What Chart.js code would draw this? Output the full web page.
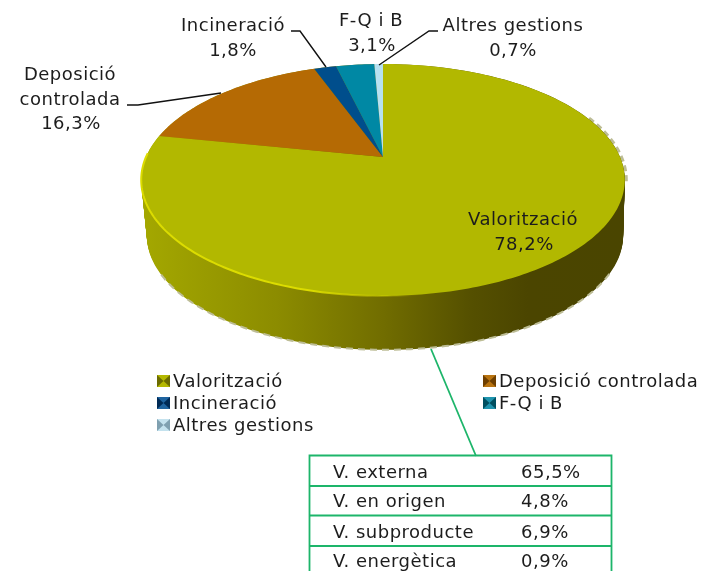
<!DOCTYPE html>
<html><head><meta charset="utf-8">
<style>html,body{margin:0;padding:0;background:#fff}canvas{display:block}</style>
<script src="https://cdn.jsdelivr.net/npm/chart.js@4"></script>
</head><body><canvas id="c" width="702" height="571"></canvas>
<script>
const categories=['Valorització','Deposició controlada','Incineració','F-Q i B','Altres gestions'];
const shares=[78.2,16.3,1.8,3.1,0.7];
const sliceColors=['#B2B800','#B56A04','#004E8C','#0088A4','#B7E1F1'];
const swatchDark=['#6b6b00','#6e3f00','#002a55','#004f60','#7fa0b0'];
const swatchLight=['#b4b800','#b97410','#1f64a0','#1f94ae','#c4e2ee'];
const shareLabels=['78,2%','16,3%','1,8%','3,1%','0,7%'];
const tableNames=['V. externa','V. en origen','V. subproducte','V. energètica'];
const tableValues=['65,5%','4,8%','6,9%','0,9%'];
const FONT='18px "DejaVu Sans"';
const TXT='#1c1c1c';
const GREEN='#1DB56A';

// perspective projection of the unit pie disc
const CX=383,APEX=157,A=237,B=111.4,K=0.198;
function faceAt(u,v){const d=1-K*v;return [CX+A*u/d,APEX+B*v/d];}
function lowAt(u,v,t){const d=1-K*v,s=1-0.015*t;return [CX+2*t+s*A*u/d,APEX+56*t+s*B*v/d];}

const pie3d={id:'pie3d',
 beforeDatasetsDraw(chart){
  const ctx=chart.ctx,arcs=chart.getDatasetMeta(0).data;
  // pale dashes around the right shoulder
  ctx.save();ctx.strokeStyle='#BDBD96';ctx.lineWidth=3;ctx.setLineDash([6,4]);ctx.beginPath();
  for(let i=-22;i<=12;i+=1){const a=i*Math.PI/180,p=faceAt(Math.cos(a),Math.sin(a));i>-22?ctx.lineTo(p[0]+1.5,p[1]):ctx.moveTo(p[0]+1.5,p[1]);}
  ctx.stroke();ctx.restore();
  // side wall
  const g=ctx.createLinearGradient(141,0,625,0);
  g.addColorStop(0,'#A4A800');g.addColorStop(.28,'#8C8C00');g.addColorStop(.5,'#716D00');
  g.addColorStop(.68,'#555000');g.addColorStop(.8,'#4B4500');g.addColorStop(1,'#4A4500');
  ctx.fillStyle=g;
  for(let s=0;s<=56;s++){
   ctx.beginPath();
   for(let i=0;i<=360;i+=2){const a=i*Math.PI/180,p=lowAt(Math.cos(a),Math.sin(a),s/56);i?ctx.lineTo(p[0],p[1]):ctx.moveTo(p[0],p[1]);}
   ctx.closePath();ctx.fill();
  }
  // pale dashed rim under the wall
  ctx.save();ctx.strokeStyle='#BDBD96';ctx.lineWidth=2;ctx.setLineDash([7,5]);ctx.beginPath();
  for(let i=30;i<=150;i+=1){const a=i*Math.PI/180,p=lowAt(Math.cos(a),Math.sin(a),1);i>30?ctx.lineTo(p[0],p[1]):ctx.moveTo(p[0],p[1]);}
  ctx.stroke();ctx.restore();
  // top face, one slice per library arc
  arcs.forEach((arc,k)=>{
   const st=arc.startAngle,en=arc.endAngle,n=Math.max(4,Math.ceil((en-st)*60));
   ctx.beginPath();let p=faceAt(0,0);ctx.moveTo(p[0],p[1]);
   for(let i=0;i<=n;i++){const a=st+(en-st)*i/n;p=faceAt(Math.cos(a),Math.sin(a));ctx.lineTo(p[0],p[1]);}
   ctx.closePath();ctx.fillStyle=sliceColors[k];ctx.fill();
  });
  // bright rim on the near-left edge
  const h=ctx.createLinearGradient(141,0,420,0);
  h.addColorStop(0,'#DCDC00');h.addColorStop(.6,'#DCDC00');h.addColorStop(1,'rgba(210,210,0,0)');
  ctx.strokeStyle=h;ctx.lineWidth=2;ctx.beginPath();
  for(let i=80;i<=182;i+=1){const a=i*Math.PI/180,q=faceAt(Math.cos(a),Math.sin(a));i>80?ctx.lineTo(q[0],q[1]):ctx.moveTo(q[0],q[1]);}
  ctx.stroke();
  return false;
 },
 afterDraw(chart){
  const c=chart.ctx;
  const line=(pts,col,w)=>{c.strokeStyle=col;c.lineWidth=w;c.beginPath();pts.forEach((p,i)=>i?c.lineTo(p[0],p[1]):c.moveTo(p[0],p[1]));c.stroke();};
  // leaders
  line([[291,31],[300,31],[326,67]],'#111',1.4);
  line([[127,105],[138,105],[221,93]],'#111',1.4);
  line([[438,31],[429,31],[379,65]],'#111',1.4);
  line([[431,349],[476,456]],GREEN,1.8);
  // labels
  c.font=FONT;c.letterSpacing='0.5px';c.fillStyle=TXT;c.textBaseline='alphabetic';c.textAlign='center';
  const t=(s,x,y)=>c.fillText(s,x,y);
  t(categories[0],523,225);t(shareLabels[0],524,250);
  t('Deposició',70,80);t('controlada',70,105);t(shareLabels[1],71,129);
  t(categories[2],233,31);t(shareLabels[2],233,56);
  t(categories[3],371,26);t(shareLabels[3],372,51);
  t(categories[4],513,31);t(shareLabels[4],513,56);
  // legend
  const lg=[[157,381],[483,381],[157,403],[483,403],[157,425]];
  c.textAlign='left';
  lg.forEach((q,i)=>{
   const x=q[0],y=q[1]-6,w=13,s=12;
   c.fillStyle=swatchDark[i];c.fillRect(x,y,w,s);
   c.fillStyle=swatchLight[i];
   c.beginPath();c.moveTo(x,y);c.lineTo(x+w,y);c.lineTo(x+w/2,y+s/2);c.closePath();c.fill();
   c.beginPath();c.moveTo(x,y+s);c.lineTo(x+w,y+s);c.lineTo(x+w/2,y+s/2);c.closePath();c.fill();
   c.fillStyle=TXT;c.fillText(categories[i],x+16,q[1]+6);
  });
  // breakdown table
  const L=309.5,R=611.5,rows=[455.5,486,515.5,546];
  line([[L,571],[L,rows[0]],[R,rows[0]],[R,571]],GREEN,1.8);
  rows.slice(1).forEach(y=>line([[L,y],[R,y]],GREEN,1.8));
  c.fillStyle=TXT;
  const base=[478,507,538,567];
  tableNames.forEach((s,i)=>{c.fillText(s,333,base[i]);c.fillText(tableValues[i],521,base[i]);});
 }};

new Chart(document.getElementById('c'),{
 type:'pie',
 data:{labels:categories,datasets:[{data:shares,backgroundColor:sliceColors,borderWidth:0}]},
 options:{responsive:false,animation:false,events:[],
  plugins:{legend:{display:false},tooltip:{enabled:false}}},
 plugins:[pie3d]
});
</script></body></html>
